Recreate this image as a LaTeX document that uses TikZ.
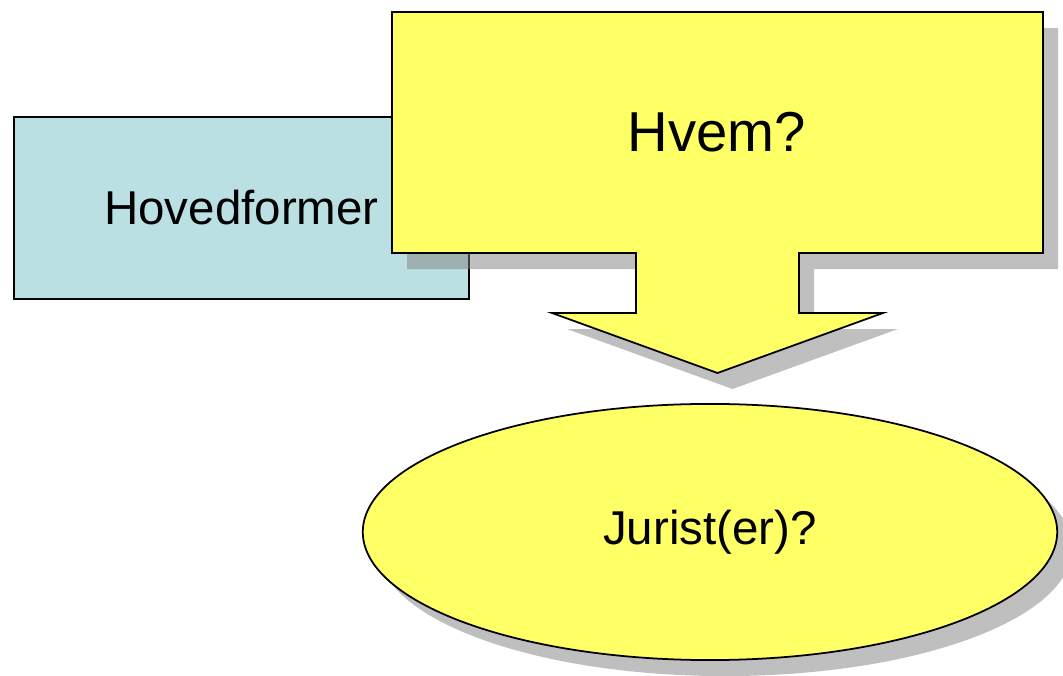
\documentclass[tikz,border=0pt]{standalone}
\usepackage{fontspec}
\setmainfont{Liberation Sans}
\usepackage{xcolor}
\usetikzlibrary{shapes, shadows}

\definecolor{lyseblaa}{HTML}{BBE0E3}
\definecolor{gul}{HTML}{FFFF66}

\begin{document}
\begin{tikzpicture}[x=0.01cm, y=-0.01cm, line width=0.5pt,
        skygge/.style={drop shadow={shadow xshift=0.15cm, shadow yshift=-0.16cm}}]
        \useasboundingbox (0, 0) rectangle (1063, 676);

        \node[rectangle, draw, fill=lyseblaa, minimum width=4.55cm, minimum height=1.82cm,
            font=\fontsize{13.5}{16}\selectfont] (hovedformer) at (241.5, 208) {Hovedformer};

        \draw[fill=gul, skygge] (392, 12) -- (1043, 12) -- (1043, 253) -- (799, 253)
            -- (799, 313) -- (883, 313) -- (717.5, 373) -- (552, 313) -- (636, 313)
            -- (636, 253) -- (392, 253) -- cycle;
        \node[font=\fontsize{16}{19}\selectfont] (hvem) at (717, 132) {Hvem?};

        \node[ellipse, draw, fill=gul, skygge, minimum width=6.94cm, minimum height=2.56cm,
            font=\fontsize{13.5}{16}\selectfont] (jurist) at (710, 532) {Jurist(er)?};
    \end{tikzpicture}
\end{document}
